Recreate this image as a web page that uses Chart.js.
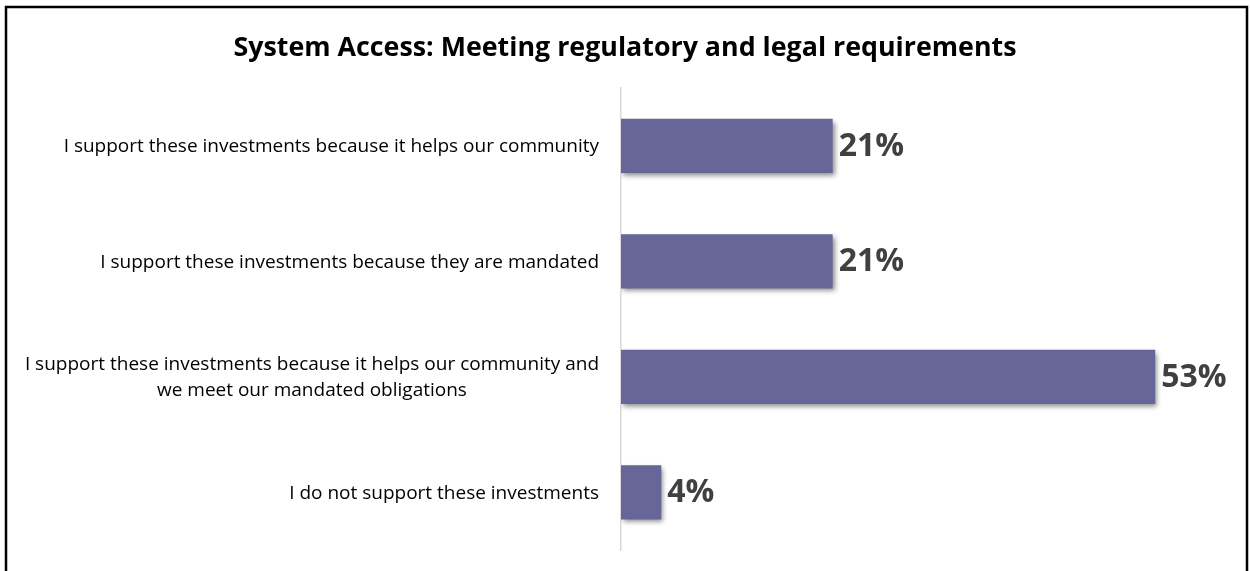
<!DOCTYPE html>
<html>
<head>
<meta charset="utf-8">
<script src="https://cdn.jsdelivr.net/npm/chart.js@4.4.1/dist/chart.umd.min.js"></script>
<style>
  html, body { margin: 0; padding: 0; background: #fff; }
  #wrap { width: 1250px; height: 571px; }
</style>
</head>
<body>
<div id="wrap"><canvas id="myChart" width="1250" height="571"></canvas></div>
<script>
var labels = [
	'I support these investments because it helps our community',
	'I support these investments because they are mandated',
	['I support these investments because it helps our community and', 'we meet our mandated obligations'],
	'I do not support these investments'
];
var values = [21, 21, 53, 4];
var xMax = 62.4;

var barColor = '#666699';

// soft drop shadow under the bars
var barShadow = {
	id: 'barShadow',
	beforeDatasetsDraw: function (chart) {
		var c = chart.ctx;
		c.save();
		c.shadowColor = 'rgba(0,0,0,0.45)';
		c.shadowBlur = 5;
		c.shadowOffsetX = 2;
		c.shadowOffsetY = 3;
	},
	afterDatasetsDraw: function (chart) {
		chart.ctx.restore();
	}
};

// category labels: right aligned block, lines centred within it
var catLabels = {
	id: 'catLabels',
	afterDraw: function (chart) {
		var c = chart.ctx;
		var y = chart.scales.y;
		c.save();
		c.font = '19px "Open Sans"';
		c.fillStyle = '#000';
		c.textBaseline = 'middle';
		c.textAlign = 'center';
		labels.forEach(function (lab, i) {
			var lines = Array.isArray(lab) ? lab : [lab];
			var w = 0;
			lines.forEach(function (l) { w = Math.max(w, c.measureText(l).width); });
			var cx = chart.chartArea.left - 22 - w / 2;
			var cy = y.getPixelForValue(i) + 1;
			var lh = 26;
			lines.forEach(function (l, k) {
				c.fillText(l, cx, cy + (k - (lines.length - 1) / 2) * lh);
			});
		});
		c.restore();
	}
};

// value labels at the end of each bar
var valueLabels = {
	id: 'valueLabels',
	afterDatasetsDraw: function (chart) {
		var c = chart.ctx;
		var meta = chart.getDatasetMeta(0);
		c.save();
		c.font = 'bold 32px "Open Sans"';
		c.fillStyle = '#404040';
		c.textAlign = 'left';
		c.textBaseline = 'middle';
		meta.data.forEach(function (bar, i) {
			c.fillText(values[i] + '%', bar.x + 6, bar.y + 1);
		});
		c.restore();
	}
};

// frame around the picture
var frame = {
	id: 'frame',
	afterDraw: function (chart) {
		var c = chart.ctx;
		c.save();
		c.strokeStyle = '#000';
		c.lineWidth = 2.5;
		c.beginPath();
		c.moveTo(6, 571);
		c.lineTo(6, 7);
		c.lineTo(1247, 7);
		c.lineTo(1247, 571);
		c.stroke();
		c.restore();
	}
};

var ctx = document.getElementById('myChart').getContext('2d');

var chart = new Chart(ctx, {
	type: 'bar',
	data: {
		labels: labels,
		datasets: [{
			data: values,
			backgroundColor: barColor,
			borderWidth: 0,
			barPercentage: 0.47,
			categoryPercentage: 1
		}]
	},
	options: {
		indexAxis: 'y',
		responsive: false,
		animation: false,
		layout: { padding: { top: 0, right: 0, bottom: 21, left: 0 } },
		plugins: {
			legend: { display: false },
			tooltip: { enabled: false },
			title: {
				display: true,
				text: 'System Access: Meeting regulatory and legal requirements',
				color: '#000',
				font: { family: 'Open Sans', size: 26.8, weight: 'bold', lineHeight: 1.2 },
				padding: { top: 32, bottom: 24 }
			}
		},
		scales: {
			x: {
				display: false,
				min: 0,
				max: xMax
			},
			y: {
				offset: true,
				grid: { display: false, drawTicks: false },
				border: { color: '#d9d9d9', width: 1.5 },
				ticks: { display: false },
				afterFit: function (scale) { scale.width = 621; }
			}
		}
	},
	plugins: [barShadow, valueLabels, catLabels, frame]
});
</script>
</body>
</html>
